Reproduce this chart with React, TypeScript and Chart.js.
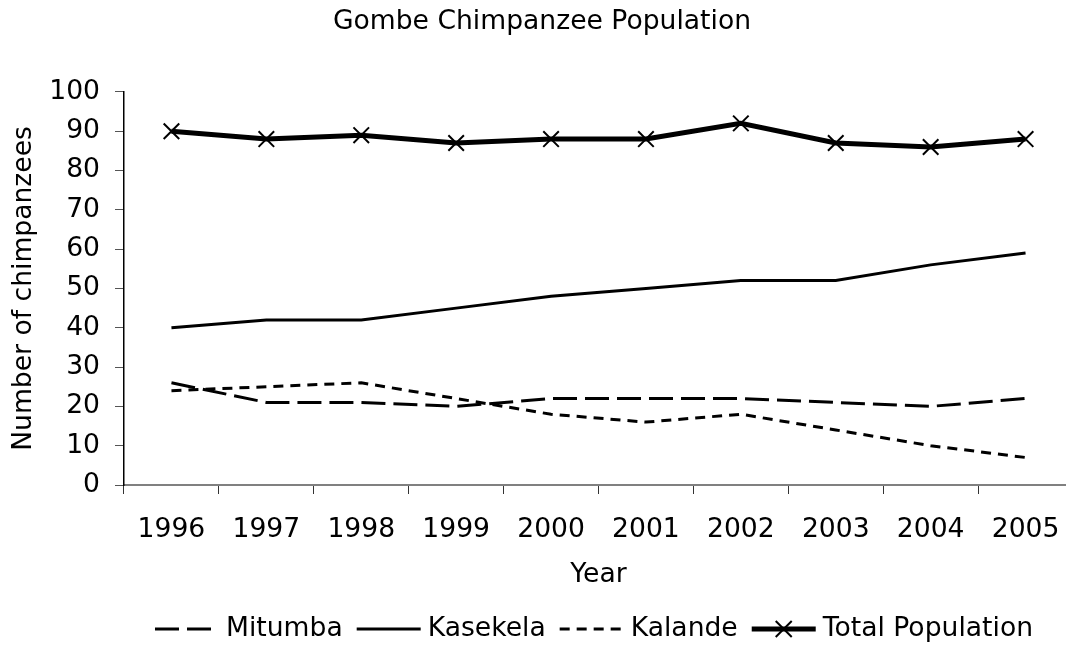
import React, { useEffect, useRef } from "react";
import { Chart, registerables } from "chart.js";

Chart.register(...registerables);

const years = ["1996", "1997", "1998", "1999", "2000", "2001", "2002", "2003", "2004", "2005"];
const mitumba = [26, 21, 21, 20, 22, 22, 22, 21, 20, 22];
const kasekela = [40, 42, 42, 45, 48, 50, 52, 52, 56, 59];
const kalande = [24, 25, 26, 22, 18, 16, 18, 14, 10, 7];
const totalPopulation = [90, 88, 89, 87, 88, 88, 92, 87, 86, 88];

const FONT = "'DejaVu Sans', Verdana, sans-serif";
const FS = 26.6;

const legendPlugin = {
  id: "customLegend",
  afterDraw(chart: any) {
    const ctx = chart.ctx as CanvasRenderingContext2D;
    const items = chart.data.datasets.map((ds: any) => ({
      label: ds.label as string,
      dash: (ds.borderDash || []) as number[],
      width: ds.borderWidth as number,
      marker: (ds.pointRadius || 0) > 0,
    }));
    ctx.save();
    ctx.font = `${FS}px ${FONT}`;
    const sample = 64;
    const gapText = 7;
    const gapItem = 14;
    let totalW = 0;
    items.forEach((it: any, i: number) => {
      totalW += sample + gapText + ctx.measureText(it.label).width + (i < items.length - 1 ? gapItem : 0);
    });
    const cx = 594;
    let x = cx - totalW / 2;
    const y = 629;
    items.forEach((it: any) => {
      ctx.save();
      ctx.strokeStyle = "#000";
      ctx.lineWidth = it.width;
      ctx.setLineDash(it.dash);
      ctx.lineCap = "butt";
      ctx.beginPath();
      ctx.moveTo(x, y);
      ctx.lineTo(x + sample, y);
      ctx.stroke();
      if (it.marker) {
        ctx.setLineDash([]);
        ctx.lineWidth = 2;
        const mx = x + sample / 2;
        const r = 8;
        ctx.beginPath();
        ctx.moveTo(mx - r, y - r);
        ctx.lineTo(mx + r, y + r);
        ctx.moveTo(mx - r, y + r);
        ctx.lineTo(mx + r, y - r);
        ctx.stroke();
      }
      ctx.restore();
      x += sample + gapText;
      ctx.fillStyle = "#000";
      ctx.textBaseline = "middle";
      ctx.textAlign = "left";
      ctx.fillText(it.label, x, y);
      x += ctx.measureText(it.label).width + gapItem;
    });
    ctx.restore();
  },
};

export default function App() {
  const ref = useRef<HTMLCanvasElement | null>(null);
  useEffect(() => {
    if (!ref.current) return;
    Chart.defaults.color = "#000";
    const chart = new Chart(ref.current, {
      type: "line",
      data: {
        labels: years,
        datasets: [
          {
            label: "Mitumba",
            data: mitumba,
            borderColor: "#000",
            backgroundColor: "#000",
            borderWidth: 3,
            borderDash: [24, 8],
            pointRadius: 0,
            tension: 0,
          },
          {
            label: "Kasekela",
            data: kasekela,
            borderColor: "#000",
            backgroundColor: "#000",
            borderWidth: 3,
            pointRadius: 0,
            tension: 0,
          },
          {
            label: "Kalande",
            data: kalande,
            borderColor: "#000",
            backgroundColor: "#000",
            borderWidth: 3,
            borderDash: [10, 7],
            pointRadius: 0,
            tension: 0,
          },
          {
            label: "Total Population",
            data: totalPopulation,
            borderColor: "#000",
            backgroundColor: "#000",
            borderWidth: 5,
            pointStyle: "crossRot",
            pointRadius: 11,
            pointBorderWidth: 2,
            pointBorderColor: "#000",
            pointBackgroundColor: "#000",
            tension: 0,
          },
        ],
      },
      options: {
        responsive: false,
        animation: false,
        layout: { padding: { left: 0, right: 2, top: 0, bottom: 51 } },
        plugins: {
          legend: { display: false },
          tooltip: { enabled: false },
          title: {
            display: true,
            text: "Gombe Chimpanzee Population",
            color: "#000",
            font: { family: FONT, size: FS, weight: "normal" },
            padding: { top: 6, bottom: 54 },
          },
        },
        scales: {
          x: {
            type: "category",
            offset: true,
            afterFit: (s: any) => {
              s.height = 110;
            },
            grid: {
              offset: true,
              drawOnChartArea: false,
              drawTicks: true,
              tickLength: 9,
              tickColor: "#333",
            },
            border: { display: true, color: "#808080", width: 2 },
            ticks: {
              color: "#000",
              font: { family: FONT, size: FS },
              padding: 20,
              autoSkip: false,
              maxRotation: 0,
              minRotation: 0,
            },
            title: {
              display: true,
              text: "Year",
              color: "#000",
              font: { family: FONT, size: FS },
              padding: { top: 0, bottom: 4 },
            },
          },
          y: {
            min: 0,
            max: 100,
            afterFit: (s: any) => {
              s.width = 124;
            },
            grid: {
              drawOnChartArea: false,
              drawTicks: true,
              tickLength: 9,
              tickColor: "#555",
            },
            border: { display: true, color: "#000", width: 1.5 },
            ticks: {
              stepSize: 10,
              color: "#000",
              font: { family: FONT, size: FS },
              padding: 15,
            },
            title: {
              display: true,
              text: "Number of chimpanzees",
              color: "#000",
              font: { family: FONT, size: FS },
              padding: { top: 8, bottom: 0 },
            },
          },
        },
      },
      plugins: [legendPlugin],
    });
    return () => chart.destroy();
  }, []);

  return (
    <div
      style={{
        position: "fixed",
        left: 0,
        top: 0,
        width: 1066,
        height: 646,
        overflow: "hidden",
        background: "#fff",
      }}
    >
      <canvas ref={ref} width={1086} height={646} style={{ display: "block" }} />
    </div>
  );
}
